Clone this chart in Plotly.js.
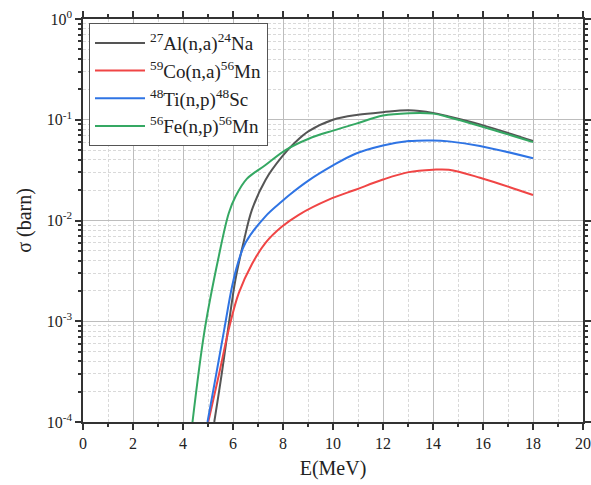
<!DOCTYPE html>
<html>
<head>
<meta charset="utf-8">
<script src="https://cdn.plot.ly/plotly-3.0.1.min.js"></script>
<style>
html,body{margin:0;padding:0;background:#fff;}
#chart{width:591px;height:485px;}
#chart text{fill:#222 !important;}
</style>
</head>
<body>
<div id="chart"></div>
<script>
// Energy (MeV) and cross-section (barn)
const alE = [5.25, 5.54, 5.8, 6.1, 6.43, 6.76, 7.3, 7.96, 8.5, 9.03, 10.0, 11.0, 12.0, 13.03, 14.0, 14.63, 15.88, 18.0];
const alS = [1.0e-4, 2.9e-4, 8.3e-4, 2.6e-3, 6.2e-3, 1.28e-2, 2.53e-2, 4.3e-2, 0.060, 0.077, 0.100, 0.112, 0.119, 0.124, 0.117, 0.108, 0.090, 0.0615];

const coE = [5.01, 5.43, 5.85, 6.23, 6.76, 7.3, 7.96, 8.63, 9.83, 10.9, 12.0, 13.03, 14.0, 14.63, 15.88, 18.0];
const coS = [1.0e-4, 2.9e-4, 8.7e-4, 1.9e-3, 3.7e-3, 6.0e-3, 8.7e-3, 1.14e-2, 1.61e-2, 2.02e-2, 2.55e-2, 3.02e-2, 3.19e-2, 3.19e-2, 2.66e-2, 1.79e-2];

const tiE = [4.98, 5.32, 5.65, 5.96, 6.2, 6.5, 7.3, 7.96, 8.23, 9.03, 10.0, 10.9, 12.0, 13.03, 14.0, 14.63, 15.88, 18.0];
const tiS = [1.0e-4, 2.9e-4, 8.3e-4, 2.2e-3, 3.8e-3, 6.0e-3, 1.1e-2, 1.55e-2, 1.77e-2, 2.5e-2, 3.52e-2, 4.6e-2, 5.56e-2, 6.14e-2, 6.23e-2, 6.1e-2, 5.5e-2, 4.14e-2];

const feE = [4.38, 4.87, 5.43, 5.83, 6.1, 6.56, 7.3, 8.1, 9.03, 10.0, 10.9, 12.0, 13.03, 14.0, 14.63, 15.88, 18.0];
const feS = [1.0e-4, 8.3e-4, 4.4e-3, 1.18e-2, 1.73e-2, 2.6e-2, 3.55e-2, 5.0e-2, 6.48e-2, 7.8e-2, 9.1e-2, 0.110, 0.116, 0.115, 0.106, 0.0867, 0.060];

const names = ['<sup>27</sup>Al(n,a)<sup>24</sup>Na', '<sup>59</sup>Co(n,a)<sup>56</sup>Mn', '<sup>48</sup>Ti(n,p)<sup>48</sup>Sc', '<sup>56</sup>Fe(n,p)<sup>56</sup>Mn'];
const colors = ['#555555', '#f04545', '#2f74e4', '#35a863'];

const yTickVals = [1e-4, 1e-3, 1e-2, 1e-1, 1];
const yTickText = ['10<sup>-4</sup>', '10<sup>-3</sup>', '10<sup>-2</sup>', '10<sup>-1</sup>', '10<sup>0</sup>'];

const xs = [alE, coE, tiE, feE];
const ys = [alS, coS, tiS, feS];

const yMinor = [];
for (let d = -4; d < 0; d++) for (let m = 2; m <= 9; m++) yMinor.push(m * Math.pow(10, d));

const traces = xs.map((x, i) => ({
  x: x, y: ys[i], name: names[i], type: 'scatter', mode: 'lines',
  line: {color: colors[i], width: 2, shape: 'spline', smoothing: 1}
}));

const serif = 'Liberation Serif';

const layout = {
  width: 591, height: 485,
  margin: {l: 83, r: 8, t: 19, b: 63},
  paper_bgcolor: '#fff', plot_bgcolor: '#fff',
  font: {family: serif, size: 16},
  showlegend: true,
  legend: {
    x: 0.012, y: 0.99, xanchor: 'left', yanchor: 'top',
    bgcolor: '#fff', bordercolor: '#555', borderwidth: 1,
    font: {family: serif, size: 19},
    itemwidth: 50
  },
  xaxis: {
    range: [0, 20], dtick: 2, tick0: 0,
    showline: true, linecolor: '#333', linewidth: 1.5, mirror: 'ticks',
    ticks: 'outside', ticklen: 6, tickwidth: 1.5, tickcolor: '#333',
    showgrid: true, gridcolor: '#bdbdbd', gridwidth: 1,
    zeroline: false,
    minor: {dtick: 1, ticks: 'outside', ticklen: 3, tickcolor: '#333', showgrid: true, gridcolor: '#d9d9d9', griddash: '3px,2px'},
    title: {text: 'E(MeV)', font: {family: serif, size: 20}, standoff: 10},
    tickfont: {family: serif, size: 16}
  },
  yaxis: {
    type: 'log', range: [-4, 0],
    tickvals: yTickVals, ticktext: yTickText,
    showline: true, linecolor: '#333', linewidth: 1.5, mirror: 'ticks',
    ticks: 'outside', ticklen: 6, tickwidth: 1.5, tickcolor: '#333',
    showgrid: true, gridcolor: '#bdbdbd', gridwidth: 1,
    zeroline: false,
    minor: {tickvals: yMinor, ticks: 'outside', ticklen: 3, tickcolor: '#333', showgrid: true, gridcolor: '#d9d9d9', griddash: '3px,2px'},
    title: {text: 'σ (barn)', font: {family: serif, size: 20}, standoff: 10},
    tickfont: {family: serif, size: 16}
  }
};

Plotly.newPlot('chart', traces, layout, {displayModeBar: false});
</script>
</body>
</html>
